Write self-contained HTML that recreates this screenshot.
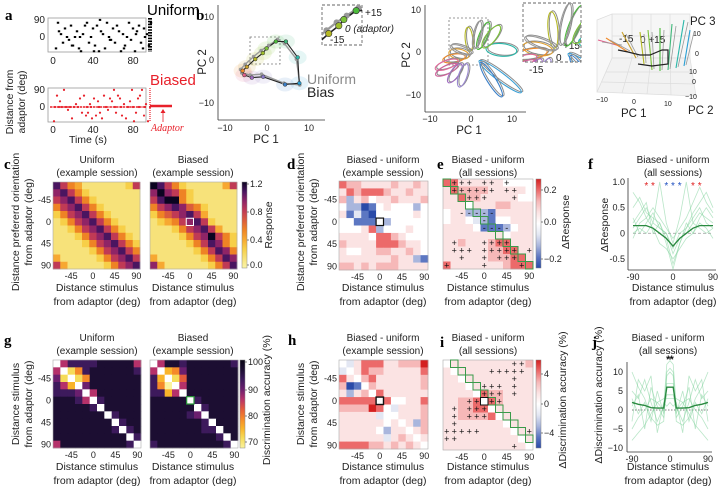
<!DOCTYPE html>
<html><head><meta charset="utf-8"><style>
html,body{margin:0;padding:0;background:#fff;}
svg{display:block;font-family:"Liberation Sans",sans-serif;}
.t{font-size:9px;fill:#222}
.l{font-size:10.5px;fill:#222}
.ti{font-size:10px;fill:#222}
.p{font-family:"Liberation Serif",serif;font-weight:bold;font-size:15px;fill:#000}
</style></head><body>
<svg id="fig" width="720" height="490" viewBox="0 0 720 490">
<defs>
<clipPath id="clipB"><rect x="322" y="5" width="40" height="40"/></clipPath>
<clipPath id="clipP"><rect x="523" y="3" width="58" height="59"/></clipPath>
</defs>
<!-- panel letters -->
<text class="p" x="5" y="20">a</text>
<text class="p" x="196" y="20">b</text>
<text class="p" x="4" y="169">c</text>
<text class="p" x="287" y="169">d</text>
<text class="p" x="437" y="169">e</text>
<text class="p" x="588" y="169">f</text>
<text class="p" x="4" y="345">g</text>
<text class="p" x="288" y="345">h</text>
<text class="p" x="440" y="347">i</text>
<text class="p" x="592" y="347">j</text>

<!-- panel a static -->
<rect x="48" y="18" width="98" height="34" fill="none" stroke="#999" stroke-width="0.8"/>
<rect x="48" y="88" width="98" height="34" fill="none" stroke="#999" stroke-width="0.8"/>
<text x="147" y="15" style="font-size:15px">Uniform</text>
<text x="150" y="85" style="font-size:15px;fill:#e8202a">Biased</text>
<text class="t" x="45" y="23" text-anchor="end" style="font-size:10px">90</text>
<text class="t" x="45" y="40" text-anchor="end" style="font-size:10px">0</text>
<text class="t" x="53" y="64" text-anchor="middle" style="font-size:10px">0</text>
<text class="t" x="93" y="64" text-anchor="middle" style="font-size:10px">40</text>
<text class="t" x="133" y="64" text-anchor="middle" style="font-size:10px">80</text>
<text class="t" x="45" y="93" text-anchor="end" style="font-size:10px">90</text>
<text class="t" x="45" y="110" text-anchor="end" style="font-size:10px">0</text>
<text class="t" x="53" y="133" text-anchor="middle" style="font-size:10px">0</text>
<text class="t" x="93" y="133" text-anchor="middle" style="font-size:10px">40</text>
<text class="t" x="133" y="133" text-anchor="middle" style="font-size:10px">80</text>
<text class="l" x="88" y="143" text-anchor="middle">Time (s)</text>
<text class="l" transform="translate(13,102) rotate(-90)" text-anchor="middle">Distance from</text>
<text class="l" transform="translate(25,102) rotate(-90)" text-anchor="middle">adaptor (deg)</text>
<line x1="150" y1="88" x2="150" y2="122" stroke="#e8202a" stroke-width="1.2" stroke-dasharray="1 1"/>
<line x1="150" y1="106" x2="172" y2="106" stroke="#e8202a" stroke-width="2.5"/>
<line x1="163" y1="122" x2="163" y2="110" stroke="#e8202a" stroke-width="0.8"/>
<path d="M160.5,113 L163,109 L165.5,113Z" fill="#e8202a"/>
<text x="151" y="131" style="font-family:'Liberation Serif',serif;font-style:italic;font-size:10px;fill:#e8202a">Adaptor</text>
<line x1="150" y1="18" x2="150" y2="52" stroke="#000" stroke-width="4" stroke-dasharray="1.6 1.2"/>

<!-- panel b static -->
<line x1="218" y1="5" x2="218" y2="120" stroke="#333" stroke-width="0.8"/>
<line x1="218" y1="120" x2="325" y2="120" stroke="#333" stroke-width="0.8"/>
<text class="t" x="214" y="20" text-anchor="end">10</text>
<text class="t" x="214" y="63" text-anchor="end">0</text>
<text class="t" x="214" y="106" text-anchor="end">−10</text>
<text class="t" x="225" y="131" text-anchor="middle">−10</text>
<text class="t" x="267" y="131" text-anchor="middle">0</text>
<text class="t" x="309" y="131" text-anchor="middle">10</text>
<text class="l" x="266" y="143" text-anchor="middle" style="font-size:11.5px">PC 1</text>
<text class="l" transform="translate(206,62) rotate(-90)" text-anchor="middle" style="font-size:11.5px">PC 2</text>
<text x="307" y="84" style="font-size:14px;fill:#8a8a8a">Uniform</text>
<text x="307" y="97" style="font-size:14px;fill:#222">Bias</text>
<rect x="250" y="37" width="30" height="27" fill="none" stroke="#777" stroke-dasharray="2 2" stroke-width="0.8"/>
<rect x="322" y="5" width="40" height="40" fill="none" stroke="#666" stroke-dasharray="3 2" stroke-width="0.9"/>
<text class="t" x="365" y="16" style="font-size:10px">+15</text>
<text class="t" x="345" y="32" style="font-size:10px;font-style:italic">0 (adaptor)</text>
<text class="t" x="330" y="43" style="font-size:10px">-15</text>

<!-- second PCA static -->
<line x1="425" y1="5" x2="425" y2="112" stroke="#333" stroke-width="0.8"/>
<line x1="425" y1="112" x2="526" y2="112" stroke="#333" stroke-width="0.8"/>
<text class="t" x="421" y="13" text-anchor="end">10</text>
<text class="t" x="421" y="55" text-anchor="end">0</text>
<text class="t" x="421" y="98" text-anchor="end">−10</text>
<text class="t" x="430" y="122" text-anchor="middle">−10</text>
<text class="t" x="471" y="122" text-anchor="middle">0</text>
<text class="t" x="512" y="122" text-anchor="middle">10</text>
<text class="l" x="469" y="134" text-anchor="middle" style="font-size:11.5px">PC 1</text>
<text class="l" transform="translate(410,55) rotate(-90)" text-anchor="middle" style="font-size:11.5px">PC 2</text>
<rect x="449" y="18" width="39" height="47" fill="none" stroke="#777" stroke-dasharray="2 2" stroke-width="0.8"/>
<rect x="523" y="3" width="58" height="59" fill="none" stroke="#666" stroke-dasharray="3 2" stroke-width="0.9"/>
<text class="t" x="563" y="49" style="font-size:10px">+15</text>
<text class="t" x="556" y="61" style="font-size:10px">0</text>
<text class="t" x="529" y="73" style="font-size:10px">-15</text>

<!-- 3D panel static -->
<g stroke="#ddd" stroke-width="0.7" fill="none">
<path d="M612,14 L690,14 L690,58 L612,58Z" fill="#f6f6f6"/>
<path d="M612,58 L690,58 L696,96 L597,92Z" fill="#f2f2f2"/>
<path d="M597,20 L612,14 L612,58 L597,92Z" fill="#f8f8f8"/>
<line x1="632" y1="14" x2="632" y2="58"/><line x1="651" y1="14" x2="651" y2="58"/><line x1="670" y1="14" x2="670" y2="58"/>
<line x1="612" y1="36" x2="690" y2="36"/>
<line x1="632" y1="58" x2="622" y2="93"/><line x1="651" y1="58" x2="647" y2="94"/><line x1="670" y1="58" x2="671" y2="95"/>
<line x1="606" y1="72" x2="692" y2="72"/><line x1="602" y1="82" x2="694" y2="84"/>
</g>
<text class="t" x="690" y="25" style="font-size:11.5px">PC 3</text>
<text class="t" x="693" y="36" style="font-size:7px">10</text>
<text class="t" x="695" y="56" style="font-size:7px">0</text>
<text class="t" x="689" y="74" style="font-size:7px">10</text>
<text class="t" x="692" y="84" style="font-size:7px">0</text>
<text class="t" x="685" y="99" style="font-size:7px">−10</text>
<text class="t" x="688" y="114" style="font-size:11.5px">PC 2</text>
<text class="t" x="596" y="102" style="font-size:7px">−10</text>
<text class="t" x="632" y="104" style="font-size:7px">0</text>
<text class="t" x="664" y="106" style="font-size:7px">10</text>
<text class="t" x="621" y="117" style="font-size:11.5px">PC 1</text>
<text class="t" x="619" y="42" style="font-size:10px">-15</text>
<text class="t" x="640" y="43" style="font-size:10px">0 +15</text>

<!-- row c/d/e/f text -->
<text class="ti" x="97" y="163" text-anchor="middle">Uniform</text>
<text class="ti" x="97" y="176" text-anchor="middle">(example session)</text>
<text class="ti" x="193" y="163" text-anchor="middle">Biased</text>
<text class="ti" x="193" y="176" text-anchor="middle">(example session)</text>
<text class="ti" x="383" y="163" text-anchor="middle">Biased - uniform</text>
<text class="ti" x="383" y="176" text-anchor="middle">(example session)</text>
<text class="ti" x="488" y="163" text-anchor="middle">Biased - uniform</text>
<text class="ti" x="488" y="176" text-anchor="middle">(all sessions)</text>
<text class="ti" x="673" y="163" text-anchor="middle">Biased - uniform</text>
<text class="ti" x="673" y="176" text-anchor="middle">(all sessions)</text>
<text class="l" transform="translate(19,222) rotate(-90)" text-anchor="middle">Distance prefererd orientation</text>
<text class="l" transform="translate(32,222) rotate(-90)" text-anchor="middle">from adaptor (deg)</text>
<text class="l" transform="translate(304,222) rotate(-90)" text-anchor="middle">Distance prefererd orientation</text>
<text class="l" transform="translate(317,222) rotate(-90)" text-anchor="middle">from adaptor (deg)</text>
<text class="l" x="97" y="291" text-anchor="middle">Distance stimulus</text>
<text class="l" x="97" y="305" text-anchor="middle">from adaptor (deg)</text>
<text class="l" x="193" y="291" text-anchor="middle">Distance stimulus</text>
<text class="l" x="193" y="305" text-anchor="middle">from adaptor (deg)</text>
<text class="l" x="383" y="291" text-anchor="middle">Distance stimulus</text>
<text class="l" x="383" y="305" text-anchor="middle">from adaptor (deg)</text>
<text class="l" x="488" y="291" text-anchor="middle">Distance stimulus</text>
<text class="l" x="488" y="305" text-anchor="middle">from adaptor (deg)</text>
<text class="l" x="673" y="291" text-anchor="middle">Distance stimulus</text>
<text class="l" x="673" y="305" text-anchor="middle">from adaptor (deg)</text>
<text class="l" transform="translate(272,225) rotate(-90)" text-anchor="middle">Response</text>
<text class="l" transform="translate(569,222) rotate(-90)" text-anchor="middle">ΔResponse</text>
<text class="l" transform="translate(608,225) rotate(-90)" text-anchor="middle">ΔResponse</text>

<!-- row g/h/i/j text -->
<text class="ti" x="97" y="341" text-anchor="middle">Uniform</text>
<text class="ti" x="97" y="354" text-anchor="middle">(example session)</text>
<text class="ti" x="193" y="341" text-anchor="middle">Biased</text>
<text class="ti" x="193" y="354" text-anchor="middle">(example session)</text>
<text class="ti" x="383" y="341" text-anchor="middle">Biased - uniform</text>
<text class="ti" x="383" y="354" text-anchor="middle">(example session)</text>
<text class="ti" x="488" y="341" text-anchor="middle">Biased - uniform</text>
<text class="ti" x="488" y="354" text-anchor="middle">(all sessions)</text>
<text class="ti" x="668" y="341" text-anchor="middle">Biased - uniform</text>
<text class="ti" x="668" y="354" text-anchor="middle">(all sessions)</text>
<text class="l" transform="translate(19,404) rotate(-90)" text-anchor="middle">Distance stimulus</text>
<text class="l" transform="translate(32,404) rotate(-90)" text-anchor="middle">from adaptor (deg)</text>
<text class="l" transform="translate(304,404) rotate(-90)" text-anchor="middle">Distance stimulus</text>
<text class="l" transform="translate(317,404) rotate(-90)" text-anchor="middle">from adaptor (deg)</text>
<text class="l" x="97" y="470" text-anchor="middle">Distance stimulus</text>
<text class="l" x="97" y="484" text-anchor="middle">from adaptor (deg)</text>
<text class="l" x="193" y="470" text-anchor="middle">Distance stimulus</text>
<text class="l" x="193" y="484" text-anchor="middle">from adaptor (deg)</text>
<text class="l" x="383" y="470" text-anchor="middle">Distance stimulus</text>
<text class="l" x="383" y="484" text-anchor="middle">from adaptor (deg)</text>
<text class="l" x="488" y="470" text-anchor="middle">Distance stimulus</text>
<text class="l" x="488" y="484" text-anchor="middle">from adaptor (deg)</text>
<text class="l" x="668" y="470" text-anchor="middle">Distance stimulus</text>
<text class="l" x="668" y="484" text-anchor="middle">from adaptor (deg)</text>
<text class="l" transform="translate(270,400) rotate(-90)" text-anchor="middle">Discrimination accuracy (%)</text>
<text class="l" transform="translate(566,400) rotate(-90)" text-anchor="middle">ΔDiscrimination accuracy (%)</text>
<text class="l" transform="translate(602,395) rotate(-90)" text-anchor="middle">ΔDiscrimination accuracy (%)</text>
</svg>
<script>
// ---------- data ----------
const rasterUniT=[3,5,8,10,12,14,16,18,20,22,24,26,28,30,32,34,36,38,40,42,44,46,48,50,52,54,56,58,60,62,64,66,68,70,72,74,76,78,80,82,84,86,88,90,92,94,96,98,6,19,27,41,47,57,71,83,91];
const rasterUniD=[-60,75,15,-30,45,0,-15,60,-45,0,30,-60,-75,15,60,75,-30,0,45,-45,60,-75,30,15,-60,75,0,-15,45,-30,60,30,-75,15,-45,0,75,-15,45,-75,30,60,-30,-60,0,15,-45,75,30,-45,0,-75,90,-15,-60,15,45];
const rasterBiaT=[1,4,7,11,15,19,23,27,29,31,33,35,37,39,41,43,45,47,49,51,55,57,59,61,63,65,67,69,71,73,77,79,81,83,85,87,89,91,93,95,2,6,9,13,17,21,25,34,38,46,53,62,68,75,80,86,92,97];
const rasterBiaD=[-75,60,30,90,-15,-60,15,45,-30,60,-45,-30,15,-60,45,-45,30,-30,-60,60,-15,45,30,90,-30,60,45,-45,15,-60,30,90,-75,-30,45,60,90,-45,15,-75,0,0,0,0,0,0,0,0,0,0,0,0,0,0,0,0,0,0];

const trajBiasX=[-5.8,-4.8,-2.8,-1.0,-0.1,2.1,4.5,7.3,7.7,4.3,-0.9,-3.6,-5.4];
const trajBiasY=[-2.5,-1.6,0.2,1.6,2.7,4.3,4.3,0.6,-5.4,-5.7,-3.9,-4.1,-3.5];
const trajUniX=[-6.3,-5.2,-3.2,-1.4,0.4,2.5,4.2,7.0,7.8,4.0,-1.3,-4.0,-6.0];
const trajUniY=[-2.2,-1.0,0.8,2.2,3.4,4.8,3.8,0.2,-5.8,-5.4,-3.3,-3.5,-3.0];
const trajColors=['#f08a2a','#c8a02a','#b5b825','#9fbf2a','#7cc23a','#4cbb3b','#3fb87a','#2ab7a9','#2a9fd4','#3a7fc8','#8a78c8','#a06cc0','#e0608a'];

const petalCX=[7.5,7.2,5.0,3.0,5.0,-0.5,1.5,-3.0,-4.2,-6.0,-6.0,-4.0,-2.0,-2.5];
const petalCY=[0.5,-5.8,-6.5,3.8,3.6,3.0,4.0,-0.5,-1.5,-3.0,-4.2,-5.0,-5.5,0.5];
const petalRX=[3.8,6.5,5.0,3.6,3.4,3.0,3.5,2.5,2.8,3.0,3.0,2.8,3.0,2.8];
const petalRY=[1.5,1.0,1.0,1.0,1.2,0.9,0.9,1.2,1.0,1.0,1.0,1.0,1.0,0.9];
const petalAng=[-5,-37,-58,68,52,95,78,170,190,200,205,235,252,160];
const petalColor=['#2ab7a9','#3a9fd4','#3a7fc8','#4cbb3b','#7cc23a','#b5b825','#9a9a9a','#e0a030','#f08a2a','#e06a9a','#d0609a','#a06cc0','#9a88d0','#9a9a9a'];

const heatCUni=["864311111126","786421111111","678642111111","467864211111","246786421111","124678642111","112467864211","111246786421","111124678642","111112467864","311111246786","631111124678"];
const heatCBia=["986421111136","797642111111","689942111111","467875421111","245678631111","123467862111","111246786311","111124679642","111112468742","111111246874","311111124687","731111112468"];
const heatD=["766555565565","576777655655","625645565556","422014544424","513104444454","441114244444","444572444544","555547765444","655557776554","544556655654","555555565521","665656665555"];
const heatE=["775555554444","576666555554","557665555544","555455566555","455222155555","455432144555","555541112455","555555554555","556555677555","555555667755","555555666775","755555556777"];
const heatGUni=["w57777888885","5w1378888887","61w138888888","752w68888888","7776w5888888","88875w788888","888887w88888","8888888w7888","88888888w788","888888887w78","8888888888w7","58888888887w"];
const heatGBia=["w58878888887","5w2368888888","72w148888888","730w58888888","7725w8888888","88888w788888","888888w78888","8888876w8888","88888887w888","888888877w88","8888888887w8","78888888887w"];
const heatH=["w35777556668","3w5766555557","75w675555556","601w65555556","5256w7555555","77777w744557","666687w35556","5555534w5556","55555545w526","555554255w56","5555553565w5","77776656565w"];
const heatI=["w55555555556","5w5555555555","55w555555555","555w55555555","5555w7665555","55667w765555","556677w55555","5566667w5555","55555555w555","555555555w55","5555555555w5","55555555555w"];
const plusE=[[0,1],[0,2],[0,3],[0,5],[0,6],[0,8],[1,1],[1,2],[1,3],[1,4],[1,5],[1,6],[1,8],[1,9],[2,3],[2,4],[2,5],[2,9],[8,1],[8,5],[8,6],[8,7],[8,8],[9,1],[9,2],[9,3],[9,5],[9,6],[9,7],[9,8],[9,9],[9,11],[10,2],[10,5],[10,7],[10,8],[10,9],[11,0],[11,5],[11,10]];
const minusE=[[4,2],[4,3],[4,4],[4,5],[4,6],[5,5],[6,5],[6,6],[6,7],[6,8]];
const plusI=[[0,9],[0,10],[1,6],[1,7],[1,8],[1,9],[1,10],[2,9],[3,5],[3,6],[3,7],[3,9],[4,5],[4,6],[4,7],[4,9],[5,3],[5,4],[5,6],[5,7],[6,1],[6,3],[6,4],[6,5],[7,1],[7,3],[7,4],[7,5],[8,1],[9,0],[9,1],[9,2],[9,3],[9,4],[9,11],[10,0],[10,1],[11,9]];
const tickLabels=["-45","0","45","90"];
const tickIdx=[2,5,8,11];

const fX=[-90,-75,-60,-45,-30,-15,0,15,30,45,60,75,90];
const fMean=[0.15,0.15,0.15,0.1,0.0,-0.1,-0.25,-0.1,0.0,0.1,0.15,0.15,0.15];
const fS1=[0.1,0.3,0.5,0.2,0.1,0.0,-0.3,0.0,0.1,0.3,0.5,0.2,0.1];
const fS2=[0.3,0.0,0.2,0.4,0.1,0.0,-0.4,-0.1,0.0,0.2,0.4,0.3,0.2];
const fS3=[0.5,0.7,0.4,0.3,0.2,-0.1,-0.6,-0.2,0.1,0.4,0.6,0.8,0.5];
const fS4=[0.0,0.1,0.0,0.2,1.0,0.2,-0.2,0.3,1.0,0.2,0.1,0.0,0.1];
const fS5=[-0.1,0.2,0.3,0.1,-0.2,-0.3,-0.5,-0.3,-0.1,0.0,0.2,0.1,-0.1];
const fS6=[0.8,0.6,0.3,0.5,0.3,0.1,-0.1,0.1,0.3,0.6,0.9,0.6,0.4];
const fS7=[0.2,0.4,0.6,0.0,0.2,-0.2,-0.7,-0.2,0.2,0.0,0.3,0.5,0.3];
const fYTicks=[1.0,0.5,0,-0.5];
const fYTickLabels=["1.0","0.5","0","-0.5"];
const fRedStars=[-60,-45,45,60];
const fBlueStars=[-15,0,15];

const jX=[-90,-75,-60,-45,-30,-15,-7.5,0,7.5,15,30,45,60,75,90];
const jMean=[2,1.5,1.2,0.6,0.5,0.5,6,6,6,0.5,0.5,0.6,1.2,1.5,2];
const jS1=[5,3,8,2,-3,1,12,13,12,1,-3,2,8,3,5];
const jS2=[-5,-2,0,3,2,0,4,4,4,0,2,3,0,-2,-5];
const jS3=[10,6,3,-2,-4,-3,9,10,9,-3,-4,-2,3,6,10];
const jS4=[-8,-6,-4,-1,2,3,3,3,3,3,2,-1,-4,-6,-8];
const jS5=[1,4,-5,6,1,-2,7,7,7,-2,1,6,-5,4,1];
const jS6=[3,-1,2,-3,5,-1,10,11,10,-1,5,-3,2,-1,3];
const jS7=[-3,8,5,9,-6,2,1,2,1,2,-6,9,5,8,-3];
const jYTicks=[10,5,0,-5,-10];
const jYTickLabels=["10","5","0","−5","−10"];

// ---------- helpers ----------
const NS='http://www.w3.org/2000/svg';
const svg=document.getElementById('fig');
function el(tag,attrs,parent){const e=document.createElementNS(NS,tag);for(const k in attrs)e.setAttribute(k,attrs[k]);(parent||svg).appendChild(e);return e;}
function txt(x,y,s,cls,anchor){const e=el('text',{x:x,y:y,class:cls,'text-anchor':anchor||'start'});e.textContent=s;return e;}

const palC=['#fbf5a8','#f7e27a','#f7cf48','#f7a831','#ee8325','#db5c3c','#c03a55','#8f2466','#4a1560','#0b0420'];
const palG=['#fbf3a0','#f6dc5a','#f9b42a','#f5892a','#e35a3c','#b5316a','#6b1f6e','#3d1a5c','#1c0e32','#0a0515'];
const palD=['#2a4aa8','#5c77c2','#a9b6dd','#e3e7f3','#ffffff','#fbe3e3','#f6b8b8','#ec6a6a','#d42020'];

// ---------- panel a ----------
const ax=t=>53+t, ayTop=d=>37-d*0.19, ayBot=d=>107-d*0.19;
rasterUniT.forEach((t,i)=>{const r=el('rect',{x:ax(t)-1.2,y:ayTop(rasterUniD[i])-1,width:2.4,height:2,fill:'#000'});

});
rasterBiaT.forEach((t,i)=>{const r=el('circle',{cx:ax(t),cy:ayBot(rasterBiaD[i]),r:1.1,fill:'#e8202a'});

});
el('line',{x1:50,y1:ayBot(0),x2:146,y2:ayBot(0),stroke:'#e8202a','stroke-width':1.6,'stroke-dasharray':'2.5 0.8'});

// ---------- panel b ----------
const bx=v=>267+v*4.2, by=v=>60-v*4.3;
const ibx=v=>322+(v+4)*5.6, iby=v=>5+(5.3-v)*5.6;
trajBiasX.forEach((x,i)=>{const c=el('ellipse',{cx:bx(x),cy:by(trajBiasY[i]),rx:9,ry:7,fill:trajColors[i],opacity:0.12});

});
function loop(X,Y,fx,fy,col,w,parent){let d='';X.forEach((x,i)=>{d+=(i?'L':'M')+fx(x).toFixed(1)+','+fy(Y[i]).toFixed(1);});d+='Z';return el('path',{d:d,fill:'none',stroke:col,'stroke-width':w},parent);}
const lu=loop(trajUniX,trajUniY,bx,by,'#999',1.4);


const lb=loop(trajBiasX,trajBiasY,bx,by,'#222',1.1);


trajUniX.forEach((x,i)=>{const c=el('circle',{cx:bx(x),cy:by(trajUniY[i]),r:1.8,fill:'#999'});

});
trajBiasX.forEach((x,i)=>{const c=el('circle',{cx:bx(x),cy:by(trajBiasY[i]),r:1.9,fill:trajColors[i],stroke:'#333','stroke-width':0.5});

});
const gB=el('g',{'clip-path':'url(#clipB)'});
loop(trajUniX,trajUniY,ibx,iby,'#999',2.2,gB);
loop(trajBiasX,trajBiasY,ibx,iby,'#222',1.6,gB);
[2,3,4,5].forEach(i=>{const c=el('circle',{cx:ibx(trajUniX[i]),cy:iby(trajUniY[i]),r:3,fill:'#999'},gB);

});
[2,3,4,5].forEach(i=>{const c=el('circle',{cx:ibx(trajBiasX[i]),cy:iby(trajBiasY[i]),r:3.2,fill:trajColors[i],stroke:'#333','stroke-width':0.6},gB);

});

// ---------- second PCA ----------
const px=v=>471+v*4.05, py=v=>52-v*4.25;
const ipx=v=>523+(v+5.4)*6.1, ipy=v=>3+(8-v)*5.4;
function petals(fx,fy,sx,sy,parent,nm){petalCX.forEach((cx,i)=>{
  const X=fx(cx),Y=fy(petalCY[i]);
  const g=el('ellipse',{cx:X+1.5,cy:Y-1,rx:petalRX[i]*sx,ry:petalRY[i]*sy,fill:'none',stroke:'#8a8a8a','stroke-width':1,transform:'rotate('+(-petalAng[i])+' '+(X+1.5)+' '+(Y-1)+')'},parent);
  
  
  const e=el('ellipse',{cx:X,cy:Y,rx:petalRX[i]*sx,ry:petalRY[i]*sy,fill:'none',stroke:petalColor[i],'stroke-width':1.1,transform:'rotate('+(-petalAng[i])+' '+X+' '+Y+')'},parent);
  
  });}
petals(px,py,4.05,4.2,svg,'pca');
const gP=el('g',{'clip-path':'url(#clipP)'});
petals(ipx,ipy,6.1,5.4,gP,'inset');

// ---------- 3D panel ----------
const d3X=[612,620,628,636,644,652,660,668,676];
const d3Y=[38,44,50,56,62,63,62,60,58];
const d3Col=['#e0608a','#f08a2a','#c8a02a','#b5b825','#7cc23a','#4cbb3b','#3fb87a','#2ab7a9','#2a9fd4'];
const d3TipX=[598,606,622,640,648,660,672,684,690];
const d3TipY=[40,38,32,32,30,28,24,20,30];
d3X.forEach((x,i)=>{const l=el('line',{x1:x+8,y1:d3Y[i]+8,x2:d3TipX[i],y2:d3TipY[i],stroke:d3Col[i],'stroke-width':1.1});


const g=el('line',{x1:x+10,y1:d3Y[i]+7,x2:d3TipX[i]+4,y2:d3TipY[i]+2,stroke:'#999','stroke-width':0.8});

});
const c3=el('path',{d:'M618,50 L628,52 L640,55 L650,55 L662,50 L668,50 L668,64 L652,66 L638,64',fill:'none',stroke:'#222','stroke-width':1.2});



// ---------- heatmaps ----------
function heat(x0,y0,size,rows,pal,name,ticksX,ticksY){
  const c=size/12;
  rows.forEach((r,i)=>{for(let j=0;j<12;j++){const ch=r[j];const col=ch==='w'?'#ffffff':pal[+ch];
    const e=el('rect',{x:(x0+j*c).toFixed(2),y:(y0+i*c).toFixed(2),width:(c+0.35).toFixed(2),height:(c+0.35).toFixed(2),fill:col});
    
    }});
  const f=el('rect',{x:x0,y:y0,width:size,height:size,fill:'none',stroke:'#aaa','stroke-width':0.6});
  
  
  if(ticksX)tickIdx.forEach((k,n)=>txt(x0+(k+0.5)*c,y0+size+10,tickLabels[n],'t','middle'));
  if(ticksY)tickIdx.forEach((k,n)=>txt(x0-2,y0+(k+0.5)*c+3,tickLabels[n],'t','end'));
  return c;
}
function outline(x0,y0,c,i,j,col,w){const r=el('rect',{x:x0+j*c,y:y0+i*c,width:c,height:c,fill:'none',stroke:col,'stroke-width':w});

}
function marks(x0,y0,c,list,sym){list.forEach(p=>{const t=txt(x0+(p[1]+0.5)*c,y0+(p[0]+0.5)*c+3,sym,'t','middle');t.setAttribute('style','font-size:9px;fill:#111');

});}

const cc=heat(53,182,87,heatCUni,palC,'response-uniform',true,true);
heat(150,182,87,heatCBia,palC,'response-biased',true,false);
outline(150,182,cc,5,5,'#fff',1);
heat(339,181,89,heatD,palD,'delta-response-example',true,true);
outline(339,181,89/12,5,5,'#111',1.2);
const ce=heat(443,179,90,heatE,palD,'delta-response-all',true,false);
for(let i=0;i<12;i++)outline(443,179,ce,i,i,'#3a9a4a',1);
marks(443,179,ce,plusE,'+');marks(443,179,ce,minusE,'-');

const cg=heat(53,360,88,heatGUni,palG,'accuracy-uniform',true,true);
heat(150,360,88,heatGBia,palG,'accuracy-biased',true,false);
outline(150,360,cg,5,5,'#2a9a3a',1.2);
heat(339,360,89,heatH,palD,'delta-accuracy-example',true,true);
outline(339,360,89/12,5,5,'#111',1.4);
const ci=heat(443,360,90,heatI,palD,'delta-accuracy-all',true,false);
for(let i=0;i<11;i++)outline(443,360,ci,i,i+1,'#3a9a4a',1);
outline(443,360,ci,5,5,'#111',1);
marks(443,360,ci,plusI,'+');

// ---------- colorbars ----------
function cbar(x,y,h,stops,labels,pos,name){
  const id='g'+name;const lg=el('linearGradient',{id:id,x1:0,y1:1,x2:0,y2:0},svg.querySelector('defs'));
  stops.forEach((s,i)=>el('stop',{offset:i/(stops.length-1),'stop-color':s},lg));
  const r=el('rect',{x:x,y:y,width:5,height:h,fill:'url(#'+id+')',stroke:'#888','stroke-width':0.5});
  
  
  labels.forEach((l,i)=>{el('line',{x1:x+5,y1:pos[i],x2:x+7,y2:pos[i],stroke:'#333','stroke-width':0.6});txt(x+8,pos[i]+3,l,'t');});
}
cbar(242,182,86,palC,['1.2','0.8','0.4','0.0'],[184,212,240,265],'response-colorbar');
cbar(536,179,89,palD,['0.2','0.0','−0.2'],[190,222,259],'delta-response-colorbar');
cbar(240,360,88,palG.slice().reverse().reverse(),['100','90','80','70'],[362,390,416,442],'accuracy-colorbar');
cbar(536,360,88,palD,['4','0','−4'],[374,404,433],'delta-accuracy-colorbar');

// ---------- panel f ----------
const fx=v=>633+(v+90)/180*80, fy=v=>233.3-v*51.3;
el('line',{x1:628,y1:178,x2:628,y2:270,stroke:'#333','stroke-width':0.8});
el('line',{x1:628,y1:270,x2:716,y2:270,stroke:'#333','stroke-width':0.8});
fYTicks.forEach((v,i)=>txt(625,fy(v)+3,fYTickLabels[i],'t','end'));
[-90,0,90].forEach(v=>txt(fx(v),280,String(v),'t','middle'));
el('line',{x1:633,y1:fy(0),x2:713,y2:fy(0),stroke:'#aaa','stroke-dasharray':'3 2','stroke-width':0.9});
function series(X,Y,sx,sy,col,w,op,name){const d=X.map((x,i)=>(i?'L':'M')+sx(x).toFixed(1)+','+sy(Y[i]).toFixed(1)).join('');
const p=el('path',{d:d,fill:'none',stroke:col,'stroke-width':w,opacity:op});

}
[fS1,fS2,fS3,fS4,fS5,fS6,fS7].forEach(s=>series(fX,s,fx,fy,'#7fd19a',0.8,0.55,'session-line'));
series(fX,fMean,fx,fy,'#2a8a40',1.3,1,'mean-line');
fRedStars.forEach(v=>{const s=txt(fx(v),189,'*','t','middle');s.setAttribute('style','fill:#e02020;font-size:10px');

});
fBlueStars.forEach(v=>{const s=txt(fx(v),189,'*','t','middle');s.setAttribute('style','fill:#2050c0;font-size:10px');

});

// ---------- panel j ----------
const jx=v=>632+(v+90)/180*76, jy=v=>410-v*3.8;
el('line',{x1:627,y1:362,x2:627,y2:452,stroke:'#333','stroke-width':0.8});
el('line',{x1:627,y1:452,x2:712,y2:452,stroke:'#333','stroke-width':0.8});
jYTicks.forEach((v,i)=>txt(623,jy(v)+3,jYTickLabels[i],'t','end'));
[-90,0,90].forEach(v=>txt(jx(v),462,String(v),'t','middle'));
el('line',{x1:632,y1:jy(0),x2:708,y2:jy(0),stroke:'#555','stroke-dasharray':'1.5 1.5','stroke-width':0.8});
[jS1,jS2,jS3,jS4,jS5,jS6,jS7].forEach(s=>series(jX,s,jx,jy,'#7fd19a',0.8,0.55,'session-line'));
series(jX,jMean,jx,jy,'#2a8a40',1.4,1,'mean-line');
[-4,4].forEach(v=>{const s=txt(jx(v),363,'*','t','middle');s.setAttribute('style','fill:#111;font-size:11px;font-weight:bold');

});
</script>
</body></html>
